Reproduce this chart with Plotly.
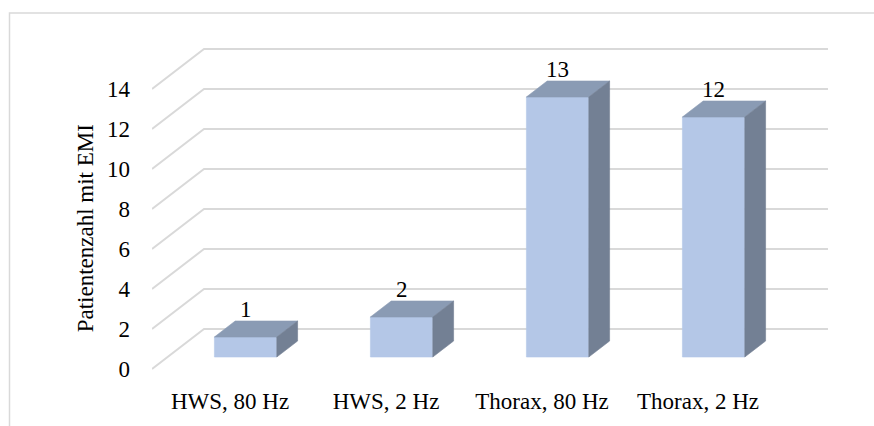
import plotly.graph_objects as go

categories = ["HWS, 80 Hz", "HWS, 2 Hz", "Thorax, 80 Hz", "Thorax, 2 Hz"]
values = [1, 2, 13, 12]
y_ticks = [0, 2, 4, 6, 8, 10, 12, 14]
y_title = "Patientenzahl mit EMI"

# 3D projection constants (in data units): full depth shifts x by DX categories and y by DY values
DX = 1 / 3
DY = 2.0
D_FRONT, D_BACK = 0.3, 0.7   # bar depth fraction
BAR_W = 0.4

FONT = "Liberation Serif"
FS = 23
GRID = "#d9d9d9"
C_FRONT = "#b4c7e7"
C_TOP = "#8a9bb4"
C_SIDE = "#738094"

fig = go.Figure()

n = len(categories)
x_lo, x_hi = -0.5, n - 0.5

# perspective gridlines (floor edge diagonal + back wall)
for v in y_ticks:
    fig.add_trace(go.Scatter(
        x=[x_lo, x_lo + DX, x_hi + DX], y=[v, v + DY, v + DY],
        mode="lines", line=dict(color=GRID, width=2),
        hoverinfo="skip", showlegend=False))

def face(xs, ys, color):
    fig.add_trace(go.Scatter(
        x=xs + [xs[0]], y=ys + [ys[0]], mode="lines", fill="toself",
        fillcolor=color, line=dict(color=color, width=0.6),
        hoverinfo="skip", showlegend=False))

for i, v in enumerate(values):
    xl = i - BAR_W / 2 + D_FRONT * DX
    xr = i + BAR_W / 2 + D_FRONT * DX
    y0 = D_FRONT * DY
    ddx = (D_BACK - D_FRONT) * DX
    ddy = (D_BACK - D_FRONT) * DY
    face([xl, xr, xr, xl], [y0, y0, y0 + v, y0 + v], C_FRONT)
    face([xl, xr, xr + ddx, xl + ddx], [y0 + v, y0 + v, y0 + v + ddy, y0 + v + ddy], C_TOP)
    face([xr, xr + ddx, xr + ddx, xr], [y0, y0 + ddy, y0 + v + ddy, y0 + v], C_SIDE)
    fig.add_annotation(x=i + D_FRONT * DX, y=v + D_BACK * DY, text=str(v),
                       showarrow=False, yanchor="bottom", yshift=-3,
                       font=dict(family=FONT, size=FS, color="#000000"))

fig.add_annotation(xref="paper", yref="paper", x=(85 - 152) / 676, y=(382 - 230) / 343,
                   text=y_title, textangle=-90, showarrow=False,
                   xanchor="center", yanchor="middle",
                   font=dict(family=FONT, size=FS, color="#000000"))

# outer chart border (partly cropped in the reference)
fig.add_shape(type="rect", xref="paper", yref="paper",
              x0=(9.5 - 152) / 676, x1=(890 - 152) / 676,
              y0=(382 - 450) / 343, y1=(382 - 12.7) / 343,
              line=dict(color="#d9d9d9", width=1.5), fillcolor="rgba(0,0,0,0)", layer="below")

fig.update_layout(
    width=874, height=426,
    margin=dict(l=152, r=46, t=39, b=44),
    paper_bgcolor="white", plot_bgcolor="white",
    font=dict(family=FONT, size=FS, color="#000000"),
    xaxis=dict(range=[x_lo, x_hi + DX], tickvals=list(range(n)), ticktext=categories,
               showgrid=False, zeroline=False, showline=False, ticks="",
               ticklabelstandoff=6, fixedrange=True),
    yaxis=dict(range=[-0.5, 16.5], tickvals=y_ticks, showgrid=False, zeroline=False,
               showline=False, ticks="", ticklabelstandoff=21, fixedrange=True),
    showlegend=False,
)

fig.write_html("out.html", config={"displayModeBar": False},
               post_script="document.body.style.margin='0';document.body.style.overflow='hidden';")
